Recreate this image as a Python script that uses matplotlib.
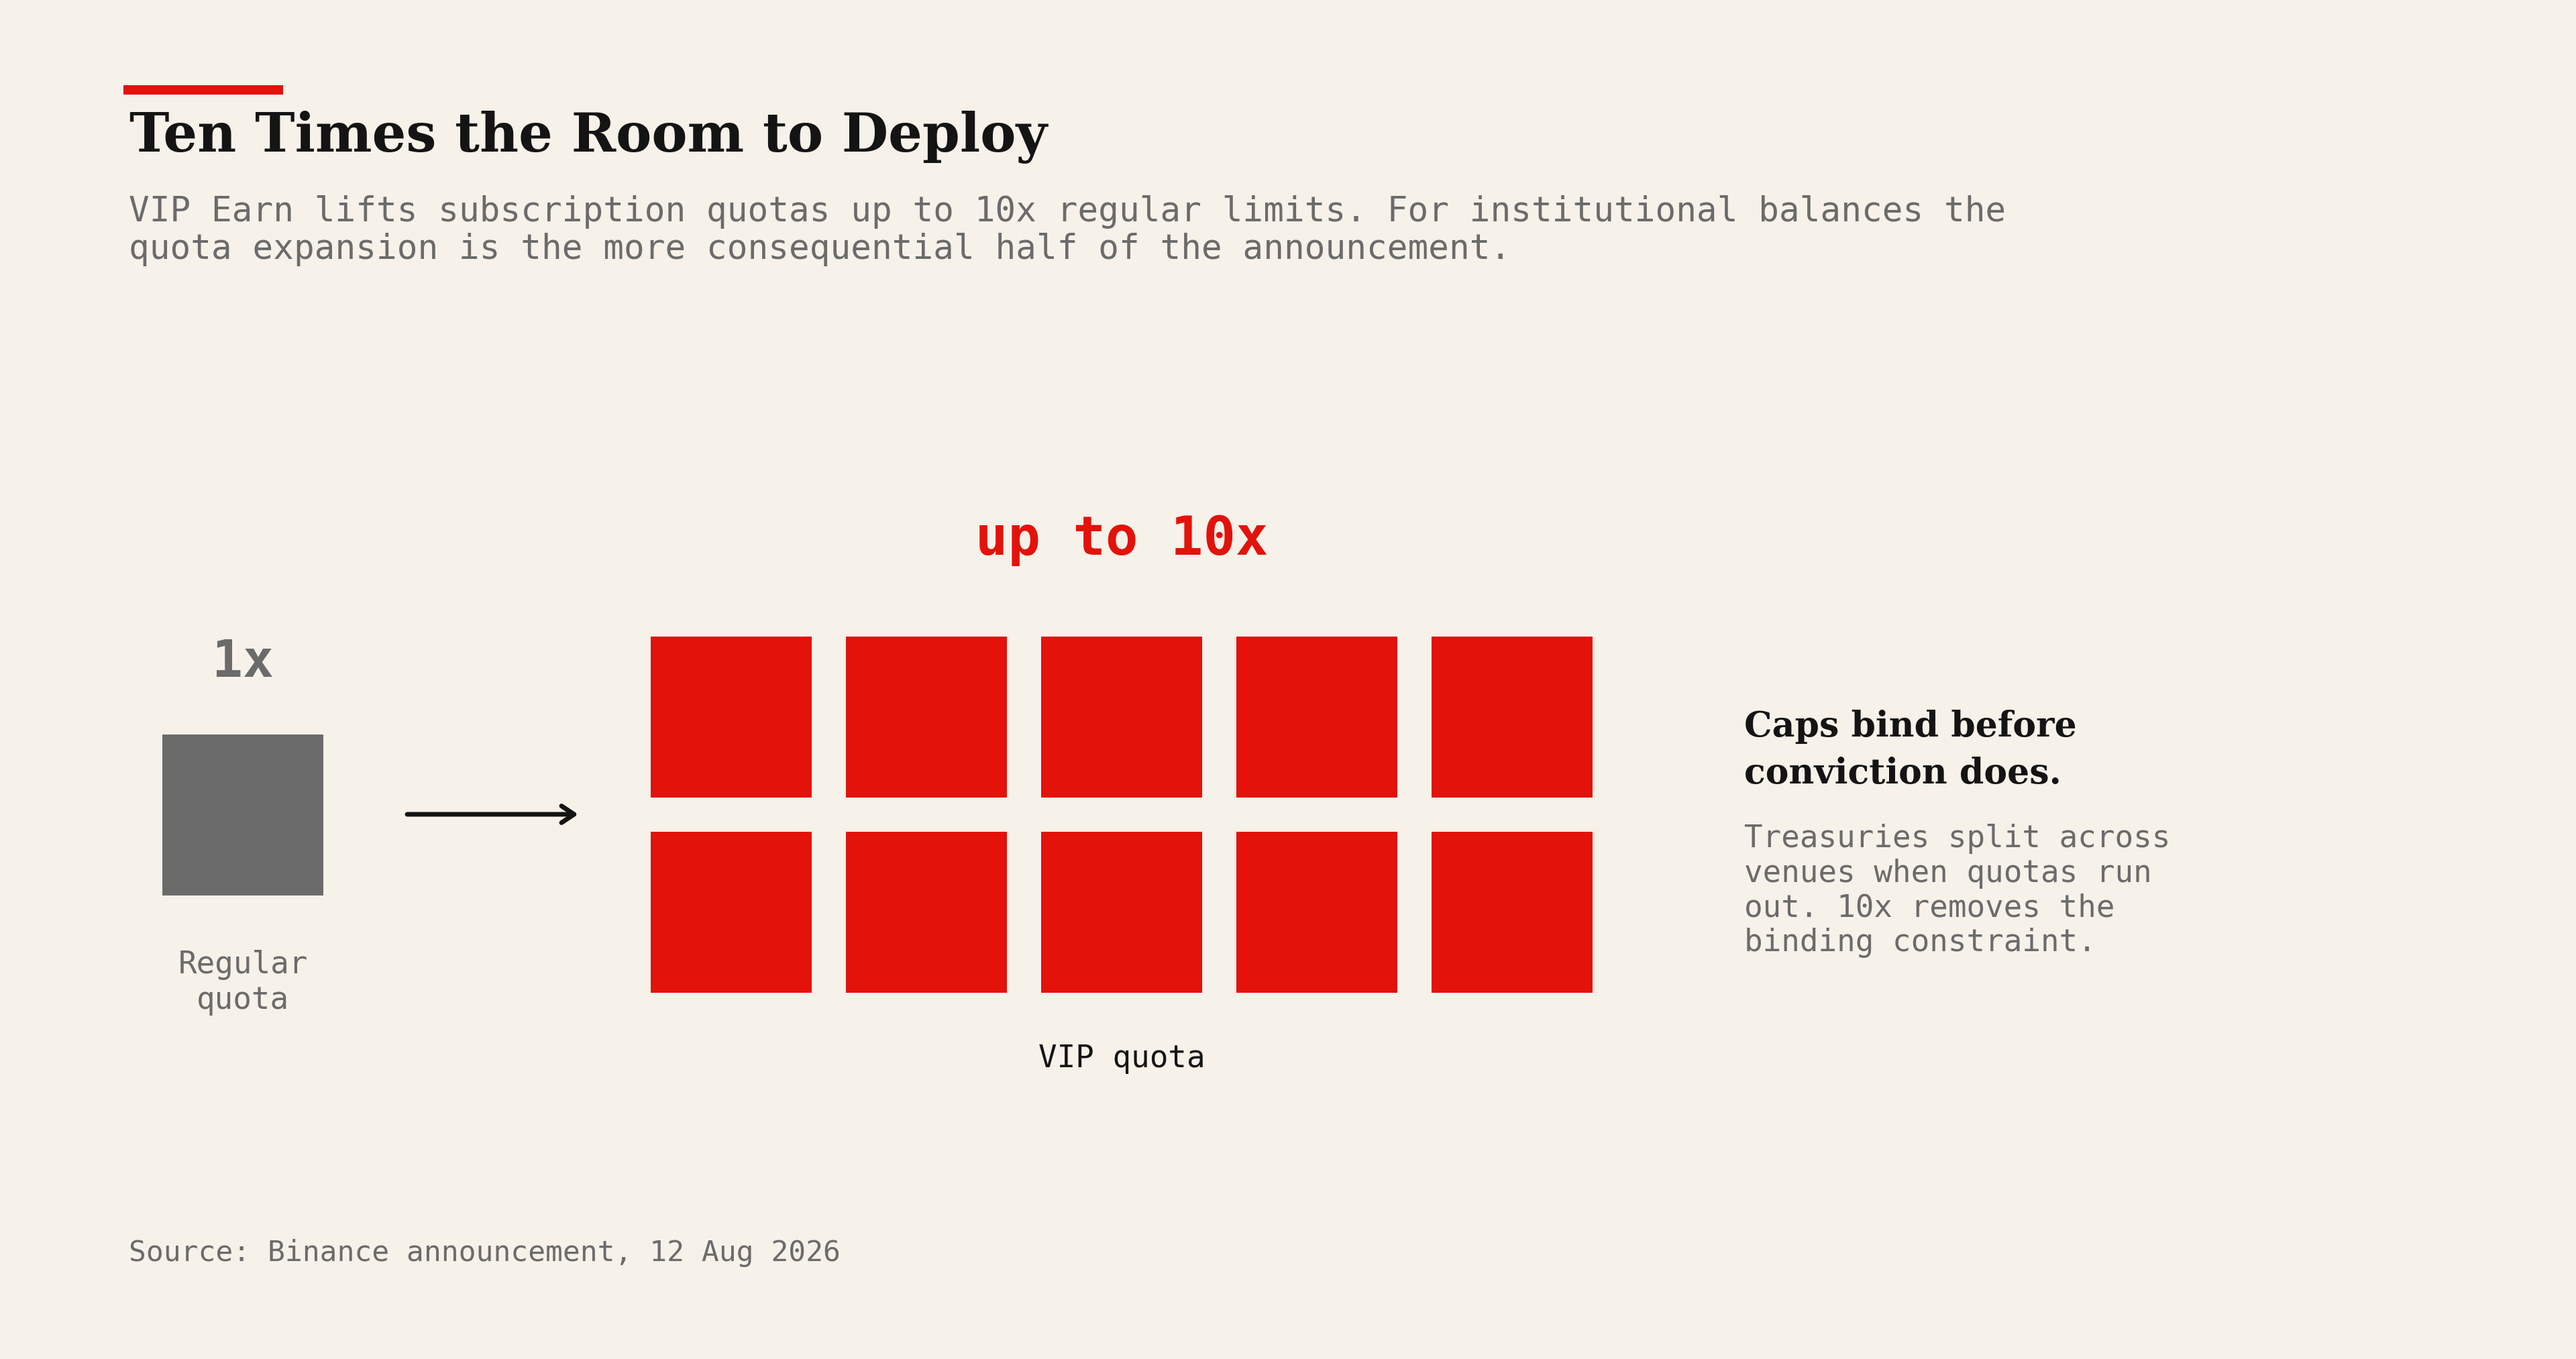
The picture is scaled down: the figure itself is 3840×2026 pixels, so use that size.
import matplotlib.pyplot as plt
from matplotlib.patches import Rectangle

# data
regular_multiple = 1
vip_multiple = 10
grid_cols = 5
labels = [['Regular', 'quota'], ['VIP quota']]
multiple_labels = ['1x', 'up to 10x']

title = 'Ten Times the Room to Deploy'
subtitle = ['VIP Earn lifts subscription quotas up to 10x regular limits. For institutional balances the',
            'quota expansion is the more consequential half of the announcement.']
note_head = ['Caps bind before', 'conviction does.']
note_body = ['Treasuries split across', 'venues when quotas run', 'out. 10x removes the',
             'binding constraint.']
source = 'Source: Binance announcement, 12 Aug 2026'

BG = '#f6f1e9'
RED = '#e3120b'
GREY = '#6b6b6b'
INK = '#141414'
SERIF = 'DejaVu Serif'
MONO = 'DejaVu Sans Mono'

fig = plt.figure(figsize=(38.4, 20.26), dpi=100, facecolor=BG)
ax = fig.add_axes([0, 0, 1, 1])
ax.set_xlim(0, 3840)
ax.set_ylim(2026, 0)
ax.axis('off')
ax.set_facecolor(BG)


def lines(x, y, rows, step, **kw):
    # one text per line, baselines step px apart
    for i, row in enumerate(rows):
        ax.text(x, y + i * step, row, va='baseline', **kw)


# header
ax.add_patch(Rectangle((184, 127), 238, 14, color=RED, lw=0))
ax.text(193, 226, title, fontsize=57.5, fontweight='bold', family=SERIF,
        color=INK, va='baseline')
lines(192, 330, subtitle, 56, fontsize=36.7, family=MONO, color=GREY)

# regular quota block
size = 240
gap = 51
ax.add_patch(Rectangle((242, 1095), size * regular_multiple, size, color=GREY, lw=0))
ax.text(362, 1009, multiple_labels[0], fontsize=55, fontweight='bold', family=MONO,
        color=GREY, ha='center', va='baseline')
lines(362, 1451, labels[0], 53, fontsize=33, family=MONO, color=GREY, ha='center')

# arrow
ax.annotate('', xy=(862, 1214), xytext=(607, 1214),
            arrowprops=dict(arrowstyle='->,head_length=0.45,head_width=0.3',
                            lw=5, color=INK, mutation_scale=30,
                            shrinkA=0, shrinkB=0))

# vip grid
x0, y0 = 970, 949
for i in range(vip_multiple):
    r, c = divmod(i, grid_cols)
    ax.add_patch(Rectangle((x0 + c * (size + gap), y0 + r * (size + gap)),
                           size, size, color=RED, lw=0))
grid_w = grid_cols * size + (grid_cols - 1) * gap
ax.text(x0 + grid_w / 2, 827, multiple_labels[1], fontsize=58, fontweight='bold',
        family=MONO, color=RED, ha='center', va='baseline')
lines(x0 + grid_w / 2, 1591, labels[1], 53, fontsize=33, family=MONO, color=INK,
      ha='center')

# side note
lines(2600, 1098, note_head, 70, fontsize=37.5, fontweight='bold', family=SERIF,
      color=INK)
lines(2600, 1263, note_body, 51.7, fontsize=33, family=MONO, color=GREY)

# footer
ax.text(192, 1880, source, fontsize=31, family=MONO, color=GREY, va='baseline')

fig.savefig('out.png', dpi=100, facecolor=BG)
